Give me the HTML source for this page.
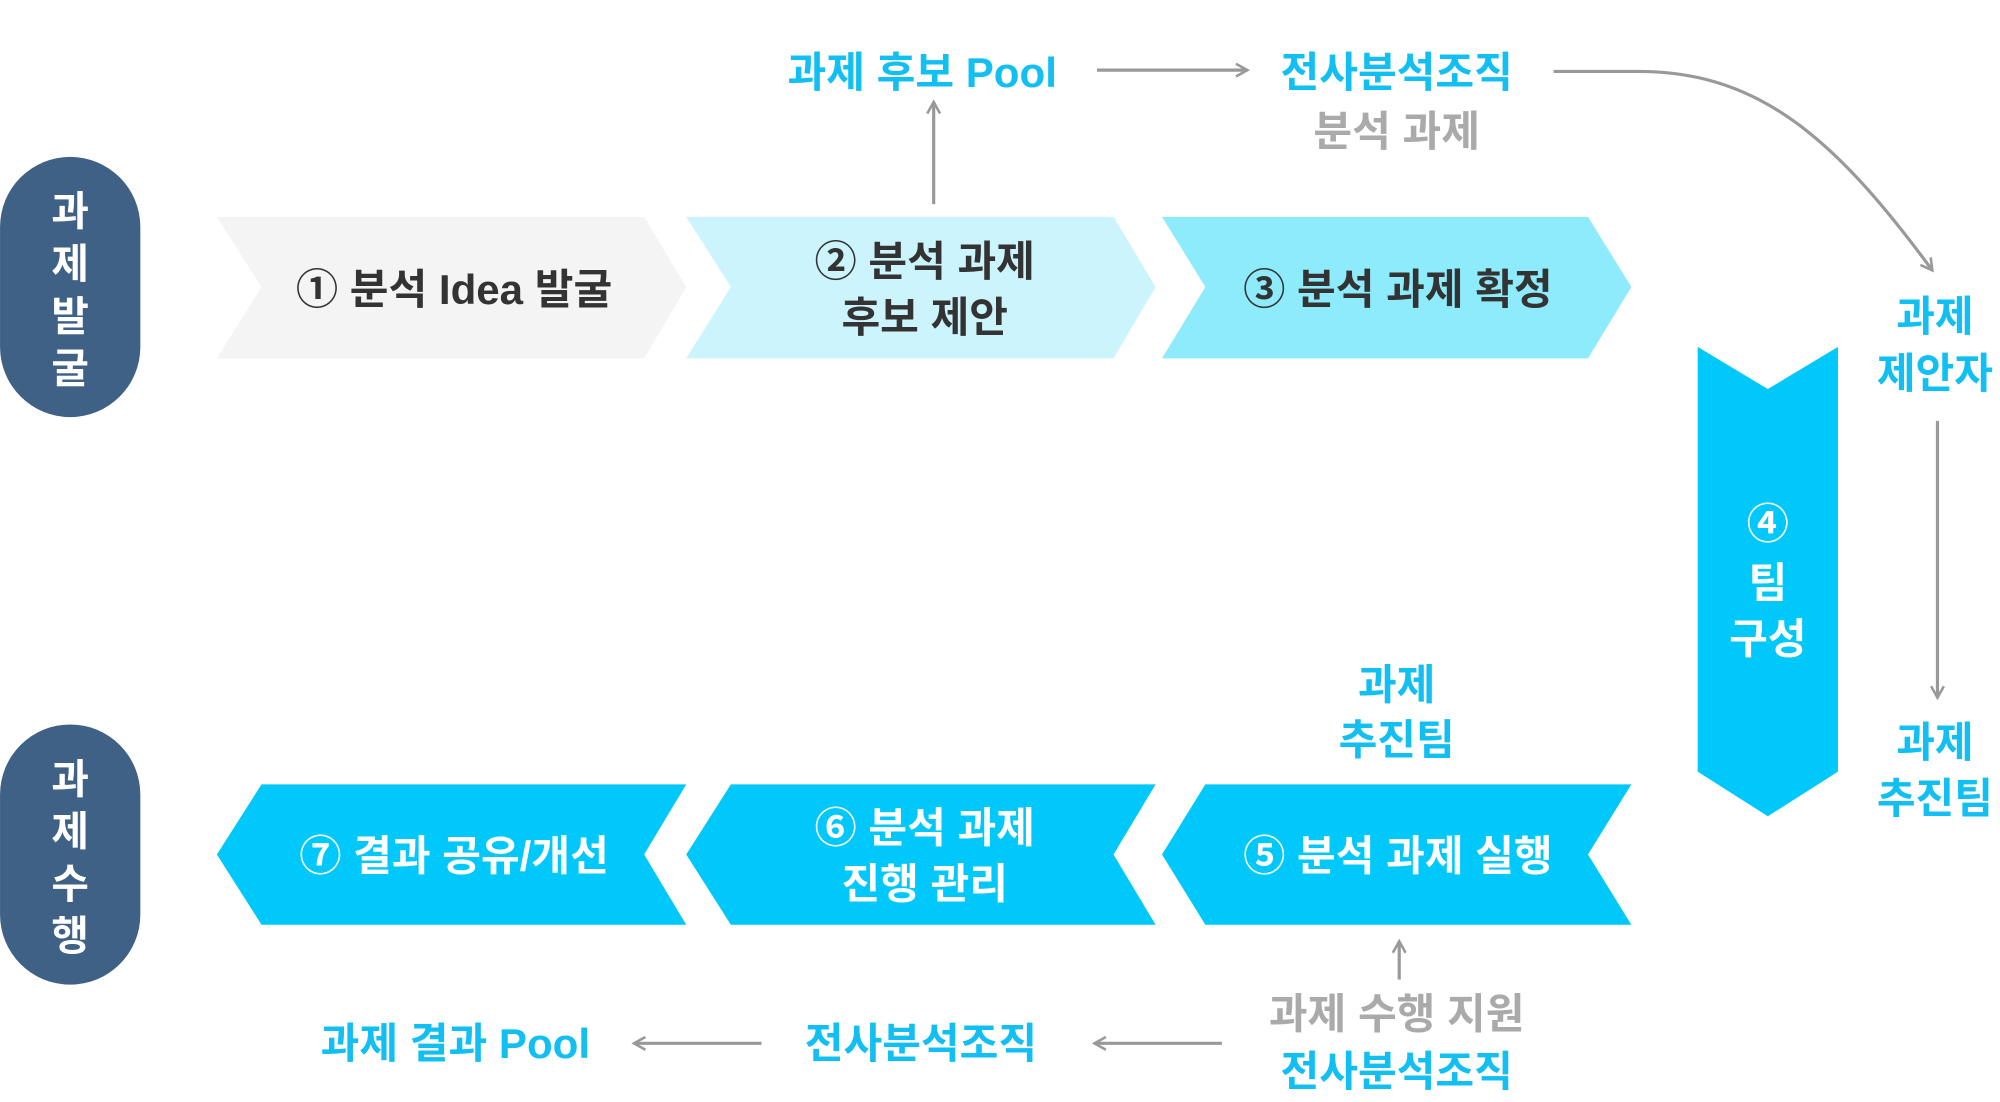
<!DOCTYPE html>
<html><head><meta charset="utf-8"><style>
html,body{margin:0;padding:0;background:#fff;width:2000px;height:1102px;overflow:hidden}
svg text{font-family:"Liberation Sans","Noto Sans CJK KR",sans-serif;font-weight:bold;text-anchor:middle;dominant-baseline:central}
.c{fill:#12bff2}.g{fill:#aaaaaa}.w{fill:#fff}.d{fill:#333}
</style></head><body>
<svg width="2000" height="1102" viewBox="0 0 1568 864" xmlns="http://www.w3.org/2000/svg">
<defs><marker id="a" viewBox="0 0 12 12" refX="10" refY="6" markerWidth="12" markerHeight="12" markerUnits="userSpaceOnUse" orient="auto"><path d="M1 1 L10 6 L1 11" fill="none" stroke="#999" stroke-width="2"/></marker></defs>
<g stroke="#999" stroke-width="2.5" fill="none">
<line x1="860" y1="55" x2="978" y2="55" marker-end="url(#a)"/>
<line x1="732" y1="160" x2="732" y2="80" marker-end="url(#a)"/>
<path d="M1218 56 L1285 56 C1380 56 1440 110 1515 212" marker-end="url(#a)"/>
<line x1="1519" y1="330" x2="1519" y2="547" marker-end="url(#a)"/>
<line x1="1097" y1="768" x2="1097" y2="738" marker-end="url(#a)"/>
<line x1="958" y1="818" x2="858" y2="818" marker-end="url(#a)"/>
<line x1="597" y1="818" x2="497" y2="818" marker-end="url(#a)"/>
</g>
<rect x="0" y="123" width="110" height="204" rx="55" fill="#3f6186"/>
<rect x="0" y="568" width="110" height="204" rx="55" fill="#3f6186"/>
<g font-size="32" style="font-size:32px">
<text x="55" y="166" class="w">과</text><text x="55" y="207" class="w">제</text><text x="55" y="248" class="w">발</text><text x="55" y="289" class="w">굴</text>
<text x="55" y="611" class="w">과</text><text x="55" y="652" class="w">제</text><text x="55" y="693" class="w">수</text><text x="55" y="734" class="w">행</text>
</g>
<polygon points="170,170 505,170 538,225 505,281 170,281 205,225" fill="#f4f4f4"/>
<polygon points="538,170 873,170 906,225 873,281 538,281 573,225" fill="#ccf4fd"/>
<polygon points="911,170 1245,170 1279,225 1245,281 911,281 945,225" fill="#8eebfc"/>
<polygon points="945,615 1279,615 1245,670 1279,725 945,725 911,670" fill="#00c8fa"/>
<polygon points="573,615 906,615 873,670 906,725 573,725 538,670" fill="#00c8fa"/>
<polygon points="205,615 538,615 505,670 538,725 205,725 170,670" fill="#00c8fa"/>
<polygon points="1331,272 1386,305 1441,272 1441,605 1386,640 1331,605" fill="#00c8fa"/>
<g style="font-size:33px">
<text x="356" y="227" class="d">① 분석 Idea 발굴</text>
<text x="725" y="205" class="d">② 분석 과제</text><text x="725" y="249" class="d">후보 제안</text>
<text x="1096" y="227" class="d">③ 분석 과제 확정</text>
<text x="1096" y="671" class="w">⑤ 분석 과제 실행</text>
<text x="725" y="649" class="w">⑥ 분석 과제</text><text x="725" y="693" class="w">진행 관리</text>
<text x="356" y="671" class="w">⑦ 결과 공유/개선</text>
<text x="1386" y="411" class="w">④</text><text x="1386" y="457" class="w">팀</text><text x="1386" y="501" class="w">구성</text>
<text x="723" y="57" class="c">과제 후보 Pool</text>
<text x="1095" y="57" class="c">전사분석조직</text>
<text x="1095" y="103" class="g">분석 과제</text>
<text x="1517" y="248" class="c">과제</text><text x="1517" y="293" class="c">제안자</text>
<text x="1517" y="582" class="c">과제</text><text x="1517" y="626" class="c">추진팀</text>
<text x="1095" y="537" class="c">과제</text><text x="1095" y="580" class="c">추진팀</text>
<text x="1095" y="795" class="g">과제 수행 지원</text>
<text x="1095" y="840" class="c">전사분석조직</text>
<text x="722" y="818" class="c">전사분석조직</text>
<text x="357" y="818" class="c">과제 결과 Pool</text>
</g>
</svg>
</body></html>
